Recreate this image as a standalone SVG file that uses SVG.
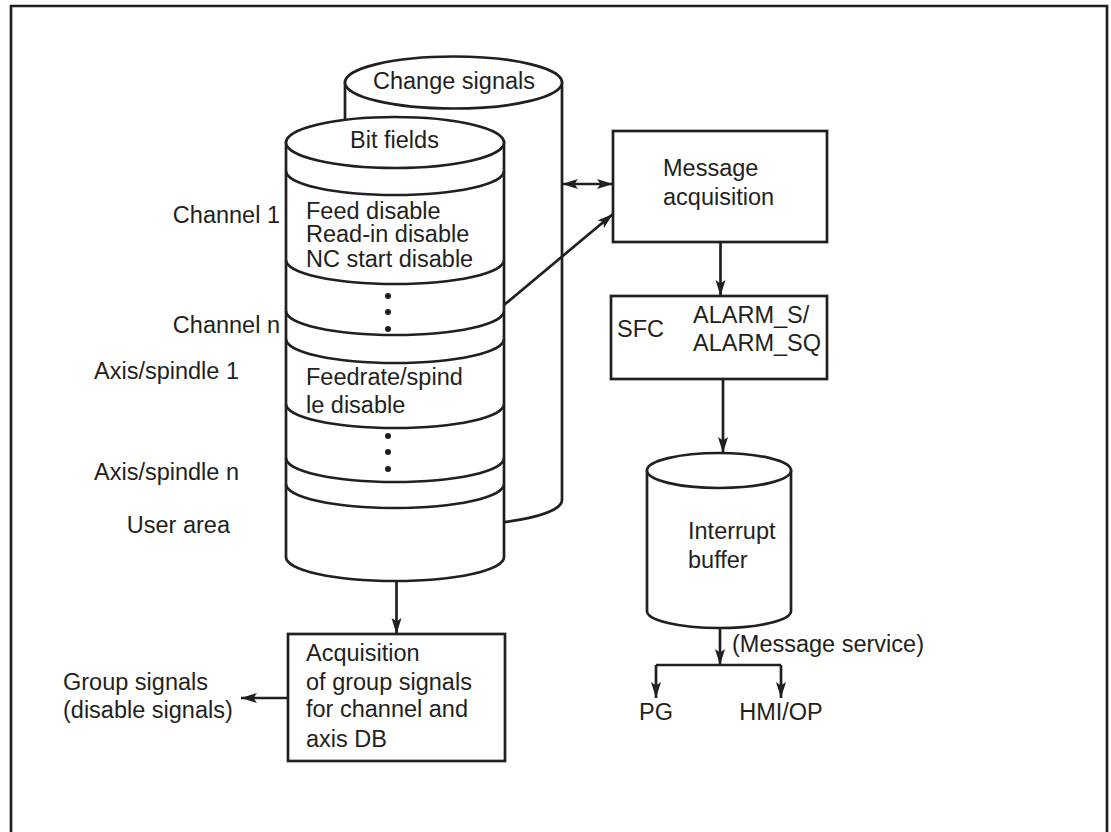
<svg xmlns="http://www.w3.org/2000/svg" width="1111" height="832" viewBox="0 0 1111 832">
<defs>
<style>
.ln{fill:none;stroke:#231f20;stroke-width:2.7}
.sh{fill:#fff;stroke:#231f20;stroke-width:2.7}
.t{font-family:"Liberation Sans",Arial,sans-serif;font-size:23.5px;fill:#231f20}
.m{text-anchor:middle}
.e{text-anchor:end}
.dot{fill:#231f20}
</style>
<marker id="ah" markerUnits="userSpaceOnUse" markerWidth="17" markerHeight="11" refX="16" refY="5" orient="auto-start-reverse" viewBox="0 0 17 11">
<path d="M0,0 L16,5 L0,10 L3.5,5 Z" fill="#231f20"/>
</marker>
</defs>
<rect width="1111" height="832" fill="#fff"/>
<g id="frame">
<path class="ln" d="M11,840 L11,6 L1107,6 L1107,840"/>
</g>
<g id="change-signals">
<path class="sh" d="M345,82.5 L345,500 A108.5,25 0 0 0 562,500 L562,82.5 Z"/>
<ellipse class="sh" cx="453.5" cy="82.5" rx="108.5" ry="26"/>
<text class="t m" x="454" y="89">Change signals</text>
</g>
<g id="bit-fields">
<path class="sh" d="M286,142.5 L286,557 A109,24 0 0 0 504,557 L504,142.5 Z"/>
<ellipse class="sh" cx="395" cy="142.5" rx="109" ry="25.5"/>
<path class="ln" d="M286,171 A109,24 0 0 0 504,171"/>
<path class="ln" d="M286,260 A109,24 0 0 0 504,260"/>
<path class="ln" d="M286,311 A109,24 0 0 0 504,311"/>
<path class="ln" d="M286,339 A109,24 0 0 0 504,339"/>
<path class="ln" d="M286,404 A109,24 0 0 0 504,404"/>
<path class="ln" d="M286,458 A109,24 0 0 0 504,458"/>
<path class="ln" d="M286,484 A109,24 0 0 0 504,484"/>
<text class="t m" x="394.5" y="148">Bit fields</text>
<text class="t" x="306" y="219">Feed disable</text>
<text class="t" x="306" y="242">Read-in disable</text>
<text class="t" x="306" y="267">NC start disable</text>
<circle class="dot" cx="388" cy="296" r="3"/>
<circle class="dot" cx="388" cy="312" r="3"/>
<circle class="dot" cx="388" cy="329" r="3"/>
<text class="t" x="306" y="385">Feedrate/spind</text>
<text class="t" x="306" y="413">le disable</text>
<circle class="dot" cx="388" cy="436" r="3"/>
<circle class="dot" cx="388" cy="452" r="3"/>
<circle class="dot" cx="388" cy="469" r="3"/>
</g>
<g id="side-labels">
<text class="t e" x="280" y="223">Channel 1</text>
<text class="t e" x="280" y="333">Channel n</text>
<text class="t e" x="239" y="379">Axis/spindle 1</text>
<text class="t e" x="239" y="480">Axis/spindle n</text>
<text class="t e" x="230" y="533">User area</text>
</g>
<g id="message-acquisition">
<rect class="sh" x="613" y="131" width="214" height="111"/>
<text class="t" x="663" y="176">Message</text>
<text class="t" x="663" y="205">acquisition</text>
</g>
<g id="sfc">
<rect class="sh" x="611" y="296" width="216" height="83"/>
<text class="t" x="617" y="337">SFC</text>
<text class="t" x="693" y="323">ALARM_S/</text>
<text class="t" x="693" y="351">ALARM_SQ</text>
</g>
<g id="interrupt-buffer">
<path class="sh" d="M647,470.5 L647,611 A72,17 0 0 0 791,611 L791,470.5 Z"/>
<ellipse class="sh" cx="719" cy="470.5" rx="72" ry="17.5"/>
<text class="t" x="688" y="539">Interrupt</text>
<text class="t" x="688" y="568">buffer</text>
</g>
<g id="group-acquisition">
<rect class="sh" x="288" y="634" width="217" height="127"/>
<text class="t" x="306" y="661">Acquisition</text>
<text class="t" x="306" y="690">of group signals</text>
<text class="t" x="306" y="717">for channel and</text>
<text class="t" x="306" y="747">axis DB</text>
</g>
<g id="outputs">
<text class="t" x="63" y="690">Group signals</text>
<text class="t" x="63" y="718">(disable signals)</text>
<text class="t" x="732" y="652">(Message service)</text>
<text class="t m" x="656" y="720">PG</text>
<text class="t m" x="781" y="720">HMI/OP</text>
</g>
<g id="connectors">
<line class="ln" x1="562" y1="184" x2="613" y2="184" marker-start="url(#ah)" marker-end="url(#ah)"/>
<line class="ln" x1="504" y1="305" x2="613" y2="214" marker-end="url(#ah)"/>
<line class="ln" x1="720.5" y1="242" x2="720.5" y2="296" marker-end="url(#ah)"/>
<line class="ln" x1="723" y1="379" x2="723" y2="453" marker-end="url(#ah)"/>
<line class="ln" x1="720" y1="628" x2="720" y2="665" marker-end="url(#ah)"/>
<path class="ln" d="M656,665 L781,665"/>
<line class="ln" x1="656" y1="665" x2="656" y2="698" marker-end="url(#ah)"/>
<line class="ln" x1="781" y1="665" x2="781" y2="698" marker-end="url(#ah)"/>
<line class="ln" x1="396.5" y1="581" x2="396.5" y2="634" marker-end="url(#ah)"/>
<line class="ln" x1="288" y1="698" x2="241" y2="698" marker-end="url(#ah)"/>
</g>
</svg>
